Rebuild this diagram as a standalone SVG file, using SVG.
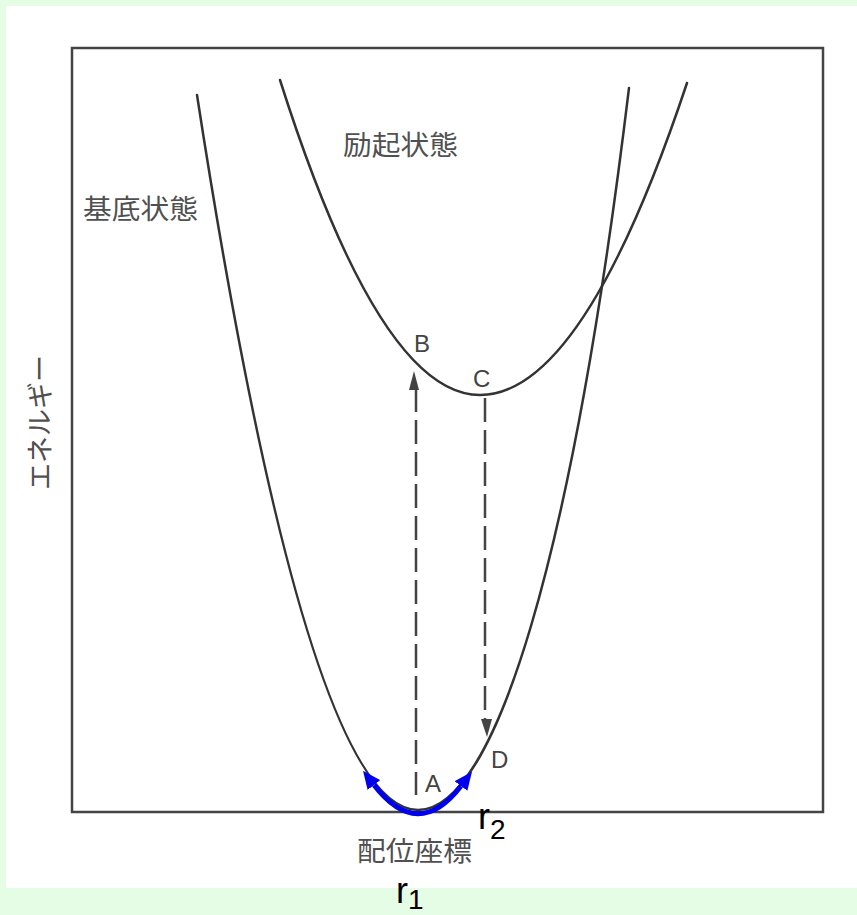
<svg xmlns="http://www.w3.org/2000/svg" width="857" height="915" viewBox="0 0 857 915">
  <defs>
    <style>
      .curve { fill: none; stroke: #333; stroke-width: 2.5; stroke-linecap: round; }
      .frame { fill: none; stroke: #444; stroke-width: 2.5; }
      .dash { fill: none; stroke: #444; stroke-width: 2.5; stroke-dasharray: 24 8; }
      .lbl { font-family: "Liberation Sans", Arial, sans-serif; font-size: 24px; fill: #444; }
      .jp { font-family: "Noto Sans CJK JP", "Noto Sans CJK SC", sans-serif; font-size: 27px; fill: #505050; }
      .r { font-family: "Liberation Sans", Arial, sans-serif; fill: #000; }
      .ah { fill: #444; }
    </style>
    <marker id="blueHead" markerUnits="userSpaceOnUse" markerWidth="18" markerHeight="16" viewBox="0 0 18 16" refX="0" refY="8" orient="auto-start-reverse">
      <path d="M0,0 L18,8 L0,16 z" fill="#0000ee"/>
    </marker>
  </defs>

  <rect x="0" y="0" width="857" height="915" fill="#e5fde5"/>
  <rect x="6" y="6" width="851" height="882" fill="#ffffff"/>

  <g id="frame">
    <rect class="frame" x="72" y="48" width="751" height="764"/>
  </g>

  <g id="ground-state">
    <path class="curve" d="M197,95 Q307.5,810 418,810 C495,810 572,560 629,88"/>
    <text class="jp" x="83" y="219" textLength="115" lengthAdjust="spacingAndGlyphs">基底状態</text>
  </g>

  <g id="excited-state">
    <path class="curve" d="M280,80 Q380,395 480,395 Q583,395 687,83"/>
    <text class="jp" x="343" y="155" textLength="115" lengthAdjust="spacingAndGlyphs">励起状態</text>
  </g>

  <g id="axis-labels">
    <text class="jp" transform="translate(50,490) rotate(-90)" x="0" y="0" font-size="25" textLength="135" lengthAdjust="spacingAndGlyphs">エネルギー</text>
    <text class="jp" x="357" y="861" font-size="26" textLength="115" lengthAdjust="spacingAndGlyphs">配位座標</text>
  </g>

  <g id="point-labels">
    <text class="lbl" x="414" y="352">B</text>
    <text class="lbl" x="473" y="387">C</text>
    <text class="lbl" x="425" y="792">A</text>
    <text class="lbl" x="491" y="768">D</text>
  </g>

  <g id="connectors">
    <line class="dash" x1="416" y1="388" x2="416" y2="795"/>
    <polygon class="ah" points="414,371 409,390 419,390"/>
    <line class="dash" x1="485" y1="398" x2="485" y2="722"/>
    <polygon class="ah" points="487,737 481,719 492,719"/>
    <path d="M374,785 Q418,842 461,786" fill="none" stroke="#0000ee" stroke-width="5" marker-start="url(#blueHead)" marker-end="url(#blueHead)"/>
  </g>

  <g id="radii">
    <text class="r" x="478" y="829" font-size="36">r<tspan font-size="28" dy="10">2</tspan></text>
    <text class="r" x="396" y="903" font-size="36">r<tspan font-size="28" dy="6">1</tspan></text>
  </g>
</svg>
